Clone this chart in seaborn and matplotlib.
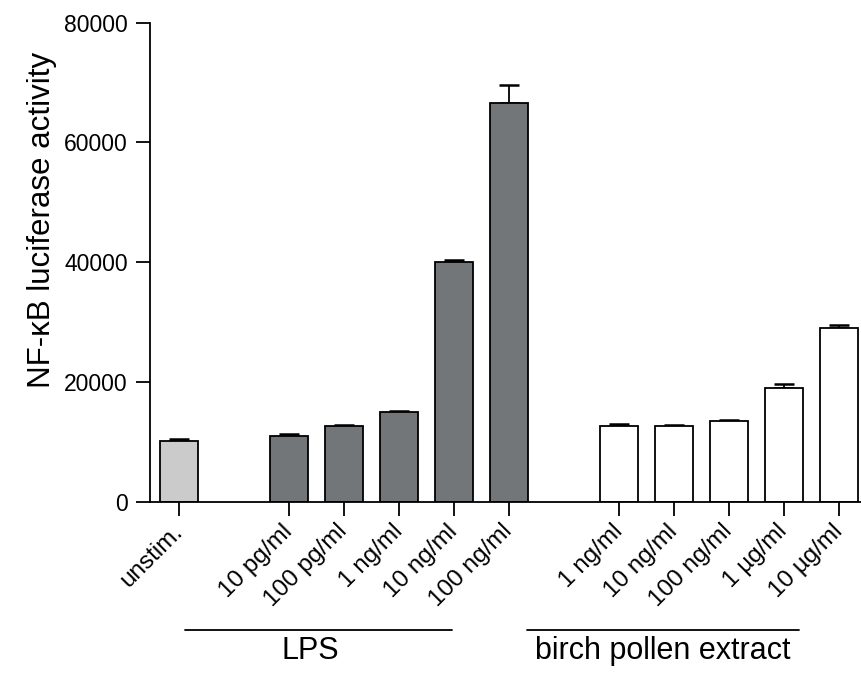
import numpy as np
import pandas as pd
import matplotlib
matplotlib.use("Agg")
import matplotlib.pyplot as plt
import matplotlib.transforms as mtransforms
import seaborn as sns

# ---- data ----
labels = ["unstim.",
          "10 pg/ml", "100 pg/ml", "1 ng/ml", "10 ng/ml", "100 ng/ml",
          "1 ng/ml", "10 ng/ml", "100 ng/ml", "1 µg/ml", "10 µg/ml"]
groups = ["unstim"] + ["LPS"] * 5 + ["birch"] * 5
values = [10100, 11000, 12600, 15000, 40000, 66600,
          12600, 12600, 13500, 19000, 29000]
errors = [400, 350, 250, 150, 300, 3000,
          450, 200, 200, 600, 450]
group_titles = {"LPS": "LPS", "birch": "birch pollen extract"}
yticks = [0, 20000, 40000, 60000, 80000]

# ---- style ----
sns.set_theme(style="ticks")
plt.rcParams["font.family"] = ["Liberation Sans", "DejaVu Sans"]
plt.rcParams["axes.linewidth"] = 1.3
plt.rcParams["text.color"] = "black"
plt.rcParams["axes.labelcolor"] = "black"
plt.rcParams["xtick.color"] = "black"
plt.rcParams["ytick.color"] = "black"
plt.rcParams["axes.edgecolor"] = "black"

# bracket extents (offsets from first / last bar of each group) and label shift
bracket_style = {"LPS": (-1.89, -1.04, -0.15), "birch": (-1.67, -0.73, 0.0)}

# x positions: one empty slot between groups
pos = []
p = 0
prev = None
for g in groups:
    if prev is not None and g != prev:
        p += 1
    pos.append(p)
    p += 1
    prev = g
pos = np.array(pos, dtype=float)

df = pd.DataFrame({"pos": pos, "value": values, "group": groups, "label": labels})
palette = {"unstim": "#cbcbcb", "LPS": "#727679", "birch": "#ffffff"}

fig = plt.figure(figsize=(8.61, 6.73), dpi=100)
ax = fig.add_axes([150 / 861, 1 - 501.7 / 673, 711 / 861, 479 / 673])

ax.errorbar(df["pos"], df["value"], yerr=[np.zeros(len(errors)), errors],
            fmt="none", ecolor="black", elinewidth=1.3, capsize=7, capthick=1.8,
            zorder=1)
sns.barplot(data=df, x="pos", y="value", hue="group", palette=palette,
            native_scale=True, dodge=False, width=0.68, errorbar=None,
            edgecolor="black", linewidth=1.3, legend=False, ax=ax, zorder=2)

ax.set_xlim(pos[0] - 0.527, pos[-1] + 0.4)
ax.set_ylim(0, 80000)
ax.set_yticks(yticks)
ax.set_yticklabels([str(t) for t in yticks], fontsize=16.5)
ax.set_xticks(pos)
ax.set_xticklabels(labels, rotation=45, ha="right", va="center",
                   rotation_mode="anchor", fontsize=17.5)
ax.tick_params(axis="both", length=10, width=1.3, color="black", labelcolor="black")
ax.tick_params(axis="y", pad=6)
ax.tick_params(axis="x", pad=9)
ax.set_xlabel("")
ax.set_ylabel("NF-κB luciferase activity", fontsize=22.5)
ax.yaxis.set_label_coords(-0.131, 0.588)
sns.despine(ax=ax)

# group brackets below the axis
trans = mtransforms.blended_transform_factory(ax.transData, ax.transAxes)
garr = np.array(groups)
for key, title in group_titles.items():
    gp = pos[garr == key]
    o0, o1, shift = bracket_style[key]
    x0, x1 = gp[0] + o0, gp[-1] + o1
    ax.plot([x0, x1], [-0.268, -0.268], color="black", lw=1.3,
            transform=trans, clip_on=False)
    ax.text((x0 + x1) / 2 + shift, -0.281, title, ha="center", va="top",
            fontsize=22, transform=trans)

fig.savefig("out.png", dpi=100)
